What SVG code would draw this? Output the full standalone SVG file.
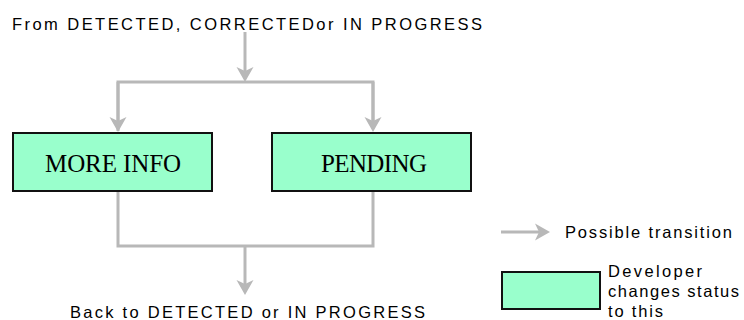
<svg xmlns="http://www.w3.org/2000/svg" width="744" height="320" viewBox="0 0 744 320">
<style>
.bg{fill:#ffffff}
.conn{fill:none;stroke:#b8b8b8;stroke-width:3}
.box{fill:#99ffcc;stroke:#111111;stroke-width:2}
.lbl{font-family:"Liberation Serif","Times New Roman",serif;font-size:25px;fill:#000}
.txt{font-family:"Liberation Sans",Arial,sans-serif;font-size:16.5px;fill:#000}
</style>
<defs>
<marker id="arr" viewBox="-12 -10 18 20" refX="0" refY="0" markerUnits="userSpaceOnUse" markerWidth="18" markerHeight="20" orient="auto">
<path d="M4,0 L-11,-8.5 L-7,0 L-11,8.5 Z" fill="#b8b8b8"/>
</marker>
</defs>
<rect class="bg" x="0" y="0" width="744" height="320"/>
<g id="connectors">
<path class="conn" d="M245,32 V78" marker-end="url(#arr)"/>
<path class="conn" d="M118,131 V82 H373 V128"/>
<path class="conn" d="M118,82 V128" marker-end="url(#arr)"/>
<path class="conn" d="M373,82 V128" marker-end="url(#arr)"/>
<path class="conn" d="M118,192 V246 H373 V192"/>
<path class="conn" d="M245,246 V291" marker-end="url(#arr)"/>
</g>
<g id="from-label">
<text class="txt" x="12" y="30" textLength="470" lengthAdjust="spacing">From DETECTED, CORRECTEDor IN PROGRESS</text>
</g>
<g id="more-info">
<rect class="box" x="13" y="133" width="199" height="58"/>
<text class="lbl" x="45" y="172" textLength="136" lengthAdjust="spacing">MORE INFO</text>
</g>
<g id="pending">
<rect class="box" x="272" y="133" width="199" height="58"/>
<text class="lbl" x="321" y="172" textLength="106" lengthAdjust="spacing">PENDING</text>
</g>
<g id="back-label">
<text class="txt" x="70" y="318" textLength="355" lengthAdjust="spacing">Back to DETECTED or IN PROGRESS</text>
</g>
<g id="legend">
<path class="conn" d="M501,232 H546" marker-end="url(#arr)"/>
<text class="txt" x="565" y="238" textLength="167" lengthAdjust="spacing">Possible transition</text>
<rect class="box" x="502" y="272" width="98" height="37"/>
<text class="txt" x="608" y="277" textLength="94" lengthAdjust="spacing">Developer</text>
<text class="txt" x="608" y="297" textLength="131" lengthAdjust="spacing">changes status</text>
<text class="txt" x="608" y="317" textLength="55" lengthAdjust="spacing">to this</text>
</g>
</svg>
